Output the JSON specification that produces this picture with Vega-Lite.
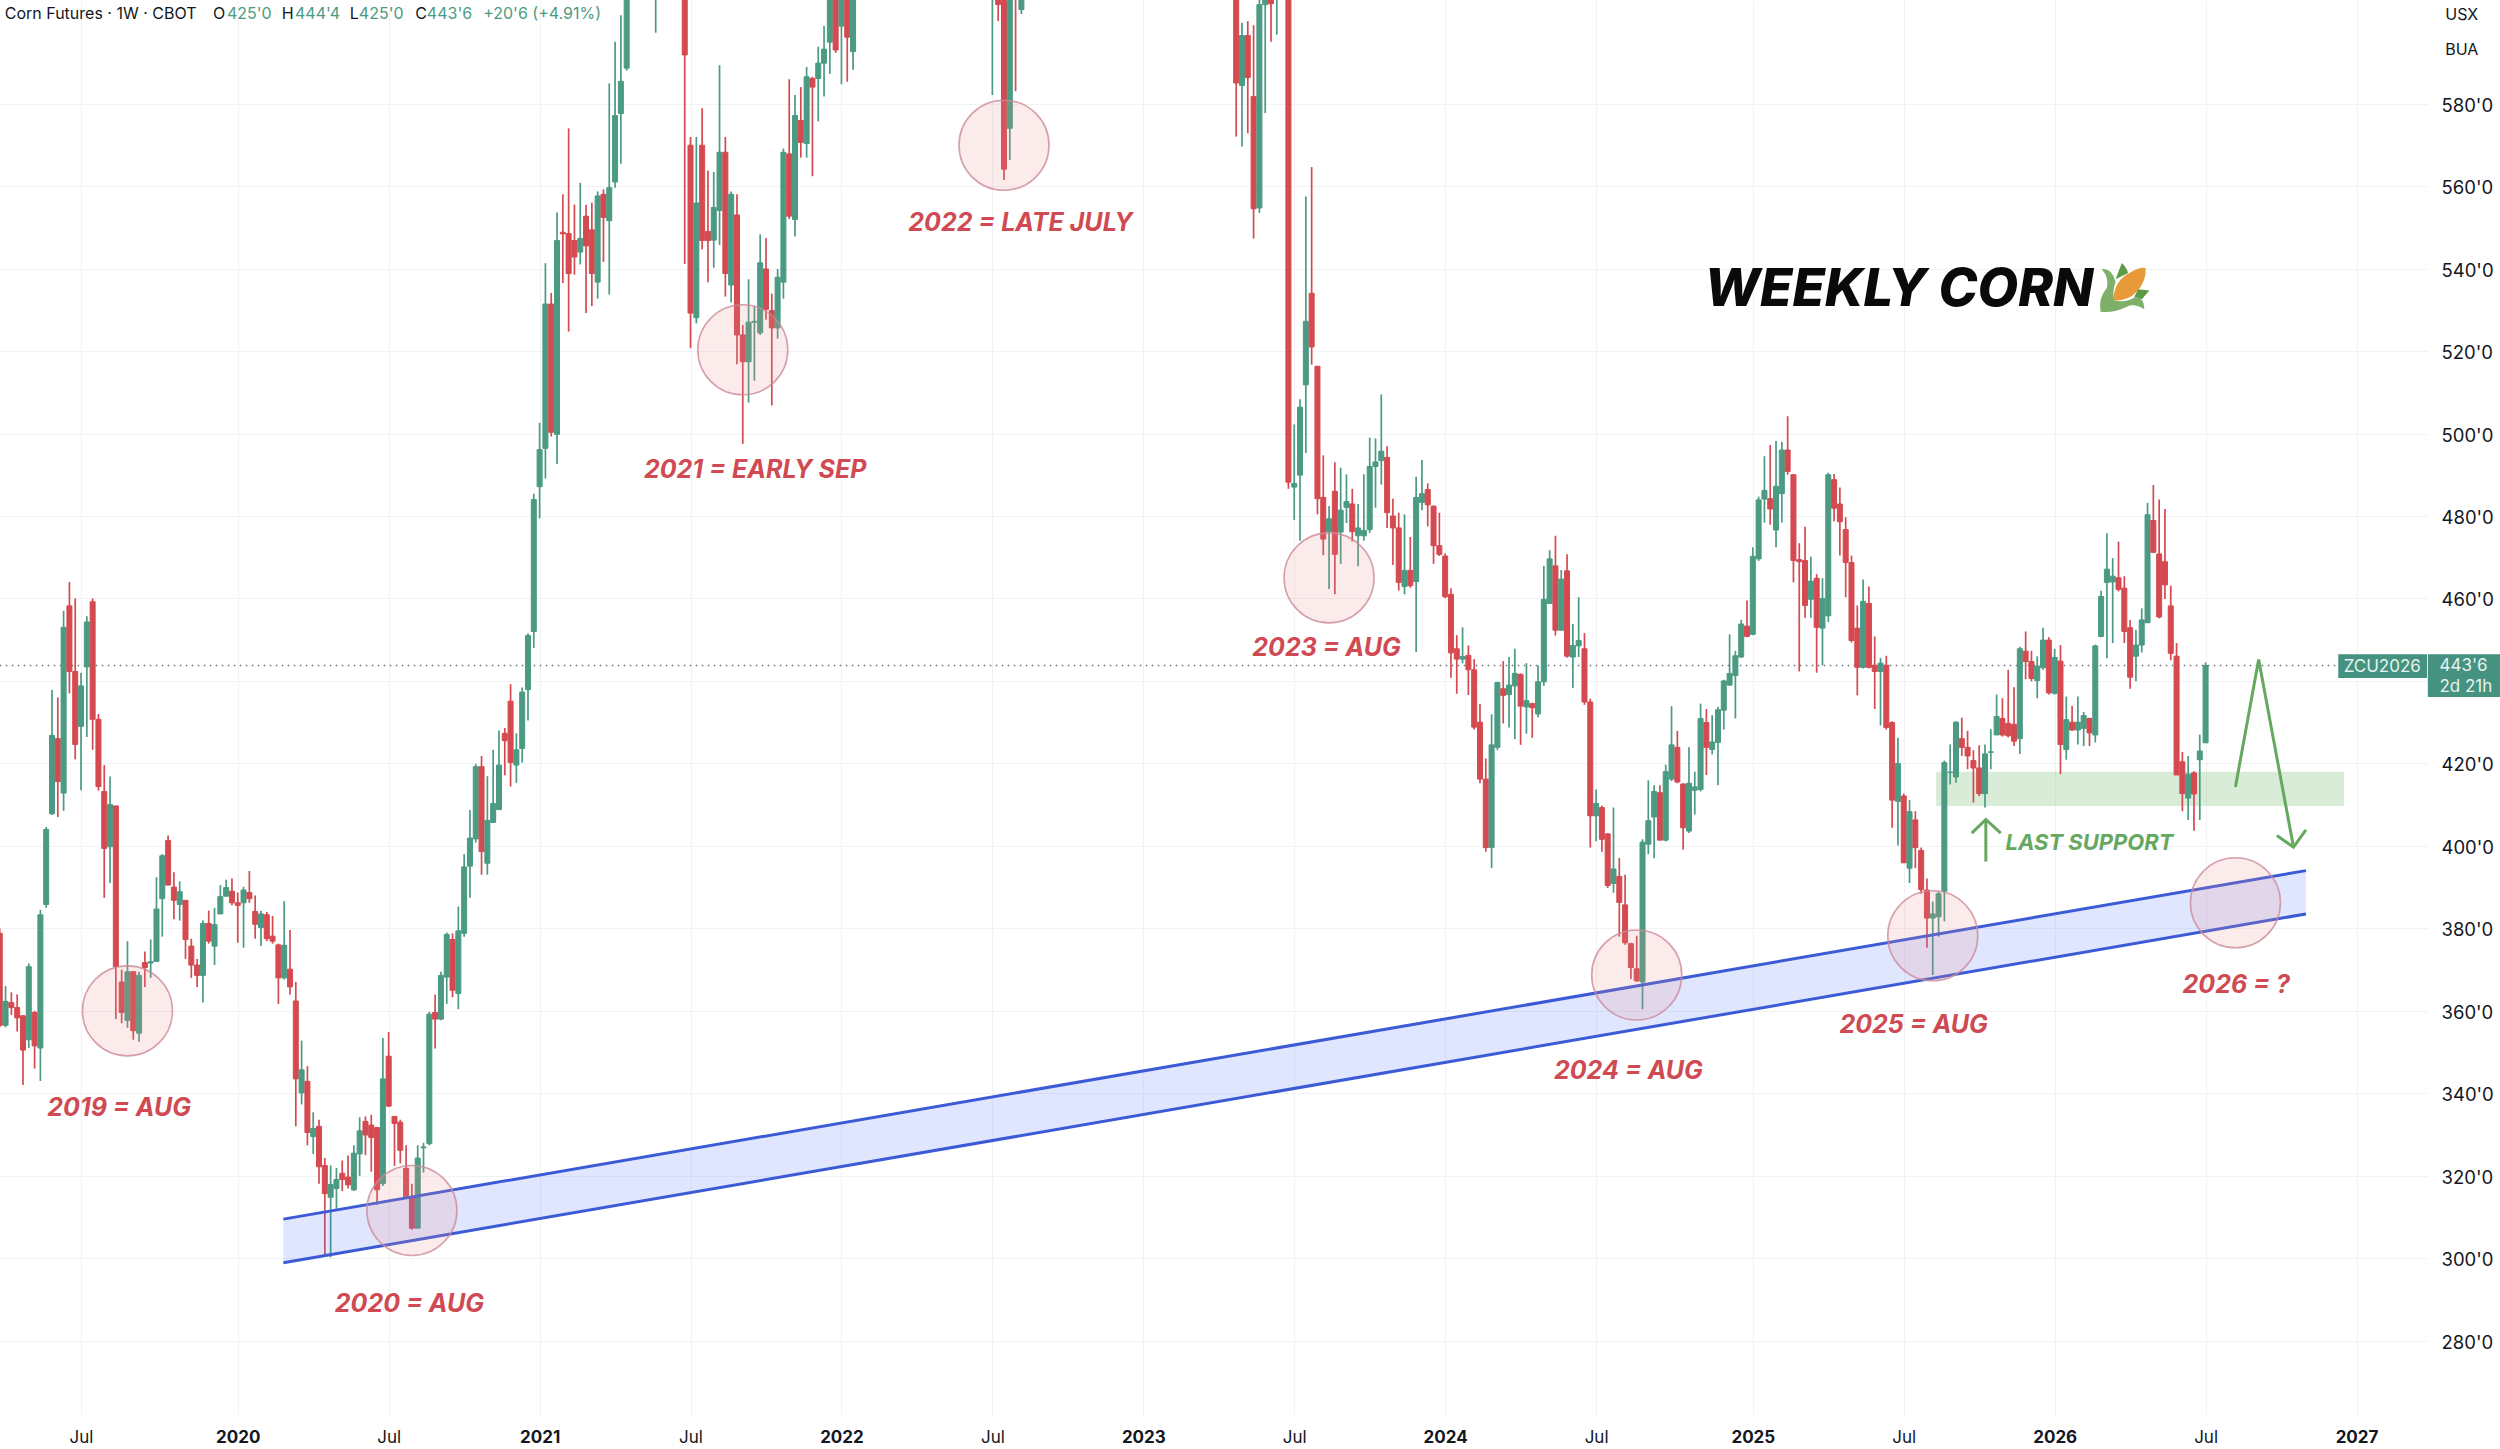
{
"$schema":"https://vega.github.io/schema/vega-lite/v6.json",
"autosize":{"type":"none"},
"padding":{"left":0,"top":0,"right":73,"bottom":34},
"background":"#ffffff",
"width":2427,
"height":1415,
"config":{"view":{"stroke":null},"font":"Inter"},
"data":{"values":[
{"date":"2019-03-25","open":378.8,"high":380,"low":356,"close":356.5},
{"date":"2019-04-01","open":356.5,"high":366,"low":356,"close":362.3},
{"date":"2019-04-08","open":362,"high":364.5,"low":359,"close":360.8},
{"date":"2019-04-15","open":360.8,"high":364,"low":355,"close":358.3},
{"date":"2019-04-22","open":358.8,"high":359,"low":342,"close":350.5},
{"date":"2019-04-29","open":353,"high":371.5,"low":351,"close":370.7},
{"date":"2019-05-06","open":359.6,"high":360,"low":346,"close":351.5},
{"date":"2019-05-13","open":351,"high":384.5,"low":343,"close":383.3},
{"date":"2019-05-20","open":385.8,"high":404.6,"low":385,"close":404},
{"date":"2019-05-27","open":407.8,"high":437.8,"low":407.5,"close":426.8},
{"date":"2019-06-03","open":426,"high":436,"low":407,"close":415.6},
{"date":"2019-06-10","open":412.8,"high":457,"low":408.5,"close":453},
{"date":"2019-06-17","open":458.2,"high":464,"low":437,"close":442.3},
{"date":"2019-06-24","open":442.3,"high":460,"low":421,"close":424.6},
{"date":"2019-07-01","open":429,"high":442,"low":413.5,"close":438.8},
{"date":"2019-07-08","open":443.4,"high":455.7,"low":426.4,"close":454.3},
{"date":"2019-07-15","open":459.2,"high":460,"low":423.3,"close":430.7},
{"date":"2019-07-22","open":430.7,"high":432,"low":413.4,"close":414.4},
{"date":"2019-07-29","open":413.2,"high":419.6,"low":387.4,"close":399.4},
{"date":"2019-08-05","open":399.8,"high":416.8,"low":391,"close":410},
{"date":"2019-08-12","open":409.7,"high":409.7,"low":358,"close":370.7},
{"date":"2019-08-19","open":367,"high":370,"low":357,"close":359.6},
{"date":"2019-08-26","open":357.7,"high":376.9,"low":355.9,"close":369.5},
{"date":"2019-09-02","open":369.5,"high":369.5,"low":353,"close":355.2},
{"date":"2019-09-09","open":354.6,"high":369.5,"low":352.5,"close":368.6},
{"date":"2019-09-16","open":371.7,"high":374.4,"low":365.8,"close":370.5},
{"date":"2019-09-23","open":371.6,"high":377.3,"low":368,"close":371.9},
{"date":"2019-09-30","open":372,"high":392.4,"low":372,"close":384.7},
{"date":"2019-10-07","open":387.2,"high":398,"low":378,"close":397.6},
{"date":"2019-10-14","open":401.3,"high":402.5,"low":390.5,"close":390.5},
{"date":"2019-10-21","open":390,"high":393.6,"low":382.2,"close":386.8},
{"date":"2019-10-28","open":385.8,"high":391.4,"low":381.9,"close":388.9},
{"date":"2019-11-04","open":386.8,"high":386.8,"low":372.6,"close":377.3},
{"date":"2019-11-11","open":375.7,"high":377.5,"low":368,"close":371.1},
{"date":"2019-11-18","open":371.1,"high":372.6,"low":365.8,"close":368.6},
{"date":"2019-11-25","open":368.6,"high":381.9,"low":362,"close":381.2},
{"date":"2019-12-02","open":381.2,"high":384.3,"low":376.3,"close":376.9},
{"date":"2019-12-09","open":375.7,"high":385,"low":371.1,"close":380.9},
{"date":"2019-12-16","open":383.5,"high":390.5,"low":383.5,"close":387.7},
{"date":"2019-12-23","open":387.8,"high":391.8,"low":387.8,"close":389.9},
{"date":"2019-12-30","open":389,"high":392.1,"low":385.6,"close":386.2},
{"date":"2020-01-06","open":386.2,"high":388.7,"low":376.5,"close":385.6},
{"date":"2020-01-13","open":386.2,"high":390.1,"low":375.3,"close":389.3},
{"date":"2020-01-20","open":388.7,"high":393.9,"low":386.2,"close":387.2},
{"date":"2020-01-27","open":384.1,"high":388,"low":377.5,"close":381},
{"date":"2020-02-03","open":380.2,"high":384.3,"low":375.7,"close":383.5},
{"date":"2020-02-10","open":383.3,"high":384,"low":376.9,"close":377.5},
{"date":"2020-02-17","open":378.1,"high":383,"low":376.3,"close":376.9},
{"date":"2020-02-24","open":376,"high":376.3,"low":361.7,"close":368},
{"date":"2020-03-02","open":368,"high":386.6,"low":367.6,"close":375.9},
{"date":"2020-03-09","open":370.1,"high":379.6,"low":363.9,"close":365.8},
{"date":"2020-03-16","open":362.4,"high":367,"low":332,"close":343.5},
{"date":"2020-03-23","open":340.1,"high":352.8,"low":337.3,"close":345.7},
{"date":"2020-03-30","open":342.9,"high":346.6,"low":327.4,"close":330.5},
{"date":"2020-04-06","open":329.5,"high":335.4,"low":325.3,"close":331.5},
{"date":"2020-04-13","open":332,"high":333.6,"low":318.1,"close":322.2},
{"date":"2020-04-20","open":322.5,"high":324.3,"low":300.8,"close":315.7},
{"date":"2020-04-27","open":314.8,"high":322.5,"low":300.2,"close":317.9},
{"date":"2020-05-04","open":316.9,"high":321.9,"low":312,"close":319.1},
{"date":"2020-05-11","open":320.6,"high":323.7,"low":316.3,"close":319.1},
{"date":"2020-05-18","open":319.7,"high":324.9,"low":316.9,"close":317.8},
{"date":"2020-05-25","open":316.6,"high":327.4,"low":316.3,"close":325.5},
{"date":"2020-06-01","open":325.3,"high":334.2,"low":320,"close":330.9},
{"date":"2020-06-08","open":333.2,"high":334.4,"low":325,"close":329.9},
{"date":"2020-06-15","open":332.3,"high":334.8,"low":321,"close":329.3},
{"date":"2020-06-22","open":331.7,"high":331.7,"low":313,"close":316.6},
{"date":"2020-06-29","open":318.1,"high":353.4,"low":317.5,"close":343.5},
{"date":"2020-07-06","open":349,"high":354.9,"low":336.7,"close":336.9},
{"date":"2020-07-13","open":334.4,"high":334.5,"low":322.4,"close":332.7},
{"date":"2020-07-20","open":333,"high":333.6,"low":323,"close":326.2},
{"date":"2020-07-27","open":321.8,"high":327.4,"low":314.4,"close":314.6},
{"date":"2020-08-03","open":314.6,"high":318.1,"low":307,"close":307.3},
{"date":"2020-08-10","open":307.3,"high":327.4,"low":307.3,"close":324.3},
{"date":"2020-08-17","open":326.8,"high":328,"low":320.8,"close":327},
{"date":"2020-08-24","open":327.8,"high":359.8,"low":327.4,"close":359.2},
{"date":"2020-08-31","open":359.6,"high":363.9,"low":350.9,"close":358},
{"date":"2020-09-07","open":358,"high":369.5,"low":357.7,"close":368.6},
{"date":"2020-09-14","open":368.2,"high":379,"low":361.7,"close":378.5},
{"date":"2020-09-21","open":377.3,"high":378.8,"low":363.3,"close":365},
{"date":"2020-09-28","open":364.2,"high":385.3,"low":360.4,"close":379.4},
{"date":"2020-10-05","open":378.8,"high":398,"low":378,"close":394.9},
{"date":"2020-10-12","open":395.1,"high":408.7,"low":387.4,"close":401.9},
{"date":"2020-10-19","open":401.7,"high":419.9,"low":400.8,"close":419.2},
{"date":"2020-10-26","open":419.2,"high":421.8,"low":393,"close":398.6},
{"date":"2020-11-02","open":395.8,"high":416.9,"low":393,"close":406.2},
{"date":"2020-11-09","open":405.7,"high":423.3,"low":405.7,"close":410.3},
{"date":"2020-11-16","open":408.8,"high":428,"low":408.8,"close":419.6},
{"date":"2020-11-23","open":427.3,"high":428.6,"low":417.1,"close":425.5},
{"date":"2020-11-30","open":435.1,"high":439.2,"low":414.4,"close":420.2},
{"date":"2020-12-07","open":419.6,"high":427.3,"low":415.3,"close":423.3},
{"date":"2020-12-14","open":423.6,"high":438.4,"low":420.2,"close":437.3},
{"date":"2020-12-21","open":437.9,"high":451.5,"low":430.4,"close":451},
{"date":"2020-12-28","open":452,"high":485.4,"low":448,"close":484},
{"date":"2021-01-04","open":487.1,"high":502.6,"low":479.4,"close":496.1},
{"date":"2021-01-11","open":496.4,"high":541.3,"low":489.1,"close":531.4},
{"date":"2021-01-18","open":531.4,"high":534.1,"low":499.3,"close":500.3},
{"date":"2021-01-25","open":499.8,"high":553.6,"low":492.6,"close":546.8},
{"date":"2021-02-01","open":548.8,"high":558,"low":536.5,"close":548.4},
{"date":"2021-02-08","open":548.5,"high":574,"low":524.7,"close":538.8},
{"date":"2021-02-15","open":546.8,"high":555.5,"low":538.5,"close":542.8},
{"date":"2021-02-22","open":544,"high":560.8,"low":541,"close":547.3},
{"date":"2021-03-01","open":552.7,"high":555.5,"low":529.2,"close":545.5},
{"date":"2021-03-08","open":549.4,"high":556,"low":530.9,"close":538.8},
{"date":"2021-03-15","open":536.7,"high":558.7,"low":532.7,"close":557.6},
{"date":"2021-03-22","open":558,"high":559.2,"low":541.6,"close":552.4},
{"date":"2021-03-29","open":551.6,"high":584.9,"low":533.7,"close":559.6},
{"date":"2021-04-05","open":561,"high":595,"low":559.6,"close":577.1},
{"date":"2021-04-12","open":577.6,"high":601.4,"low":565.4,"close":585.4},
{"date":"2021-04-19","open":588.6,"high":615,"low":588,"close":607},
{"date":"2021-05-24","open":625,"high":650,"low":597.2,"close":640},
{"date":"2021-06-28","open":625,"high":640,"low":541.1,"close":591.8},
{"date":"2021-07-05","open":569.9,"high":571.9,"low":520.7,"close":529.2},
{"date":"2021-07-12","open":528.1,"high":571.9,"low":526.7,"close":555.9},
{"date":"2021-07-19","open":569.9,"high":578.9,"low":544.6,"close":546.8},
{"date":"2021-07-26","open":549,"high":563.8,"low":536.7,"close":546.8},
{"date":"2021-08-02","open":546.9,"high":563.4,"low":540.2,"close":554.8},
{"date":"2021-08-09","open":554.1,"high":589.3,"low":545.7,"close":568.2},
{"date":"2021-08-16","open":568.2,"high":571.9,"low":533.2,"close":538.8},
{"date":"2021-08-23","open":536,"high":558.7,"low":531.8,"close":558},
{"date":"2021-08-30","open":553,"high":558,"low":516.8,"close":523.9},
{"date":"2021-09-06","open":523.9,"high":526.3,"low":497.5,"close":517.4},
{"date":"2021-09-13","open":517.4,"high":537.4,"low":507.5,"close":527},
{"date":"2021-09-20","open":527,"high":530.9,"low":512.8,"close":527.2},
{"date":"2021-09-27","open":524.4,"high":548.3,"low":523.9,"close":541.4},
{"date":"2021-10-04","open":539.9,"high":547.4,"low":527.6,"close":530.1},
{"date":"2021-10-11","open":529.8,"high":533.9,"low":506.8,"close":525.6},
{"date":"2021-10-18","open":525.6,"high":539.9,"low":523,"close":537.9},
{"date":"2021-10-25","open":536.7,"high":569.1,"low":532.7,"close":568.2},
{"date":"2021-11-01","open":567.8,"high":585.9,"low":552,"close":552.7},
{"date":"2021-11-08","open":551.9,"high":582.1,"low":547.8,"close":577.1},
{"date":"2021-11-15","open":575.9,"high":584,"low":566.9,"close":570.6},
{"date":"2021-11-22","open":570.3,"high":588.9,"low":566.9,"close":586.5},
{"date":"2021-11-29","open":586.1,"high":586.5,"low":562.4,"close":584},
{"date":"2021-12-06","open":586.1,"high":593.8,"low":575.7,"close":589.8},
{"date":"2021-12-13","open":589.8,"high":598.8,"low":581.7,"close":593.2},
{"date":"2021-12-20","open":594.9,"high":612,"low":587.2,"close":606},
{"date":"2021-12-27","open":608,"high":612,"low":592.3,"close":593},
{"date":"2022-01-03","open":598.8,"high":615,"low":584.7,"close":608},
{"date":"2022-01-10","open":610,"high":615,"low":585.3,"close":596.1},
{"date":"2022-01-17","open":592.6,"high":615,"low":588.2,"close":610},
{"date":"2022-07-04","open":620,"high":650,"low":582.1,"close":635},
{"date":"2022-07-11","open":615,"high":625,"low":600,"close":604},
{"date":"2022-07-18","open":605,"high":620,"low":561.5,"close":564.1},
{"date":"2022-07-25","open":574,"high":620,"low":566.3,"close":610},
{"date":"2022-08-01","open":630,"high":640,"low":583,"close":615},
{"date":"2022-08-08","open":602.8,"high":625,"low":601.7,"close":615},
{"date":"2023-04-24","open":610,"high":620,"low":572,"close":585},
{"date":"2023-05-01","open":584.4,"high":599.6,"low":569.6,"close":596.5},
{"date":"2023-05-08","open":596.5,"high":600,"low":572.8,"close":586.3},
{"date":"2023-05-15","open":581.7,"high":599,"low":547.3,"close":554.5},
{"date":"2023-05-22","open":554.7,"high":608,"low":553.5,"close":604},
{"date":"2023-05-29","open":604,"high":612,"low":577.7,"close":606},
{"date":"2023-06-05","open":606,"high":612,"low":595,"close":604.2},
{"date":"2023-06-12","open":610,"high":622,"low":596.7,"close":615},
{"date":"2023-06-26","open":640,"high":650,"low":486.6,"close":488.2},
{"date":"2023-07-03","open":487,"high":502.2,"low":479,"close":487.9},
{"date":"2023-07-10","open":489.9,"high":508.3,"low":474,"close":506.4},
{"date":"2023-07-17","open":511.8,"high":557.5,"low":495.3,"close":527.2},
{"date":"2023-07-24","open":534,"high":564.6,"low":516.7,"close":521},
{"date":"2023-07-31","open":516.3,"high":516.3,"low":480.4,"close":484.2},
{"date":"2023-08-07","open":484.5,"high":494.7,"low":470.5,"close":474.4},
{"date":"2023-08-14","open":476.2,"high":482.4,"low":462.3,"close":479.3},
{"date":"2023-08-21","open":486,"high":493,"low":461,"close":470.7},
{"date":"2023-08-28","open":476.1,"high":491.7,"low":468.4,"close":481.4},
{"date":"2023-09-04","open":482.1,"high":490.1,"low":478.3,"close":483.5},
{"date":"2023-09-11","open":482.9,"high":486.6,"low":473.8,"close":476.2},
{"date":"2023-09-18","open":475.2,"high":482.9,"low":467.8,"close":477.1},
{"date":"2023-09-25","open":475.2,"high":490.1,"low":474,"close":476.5},
{"date":"2023-10-02","open":476.7,"high":499,"low":475.9,"close":492},
{"date":"2023-10-09","open":492,"high":498.8,"low":482,"close":493.1},
{"date":"2023-10-16","open":493.4,"high":509.5,"low":487.6,"close":495.7},
{"date":"2023-10-23","open":494.2,"high":496.9,"low":477.1,"close":480.8},
{"date":"2023-10-30","open":480,"high":484.2,"low":468.1,"close":477.1},
{"date":"2023-11-06","open":477.1,"high":480.8,"low":461.9,"close":463.9},
{"date":"2023-11-13","open":462.9,"high":480.4,"low":461,"close":466.8},
{"date":"2023-11-20","open":466.8,"high":474.9,"low":462.6,"close":463.1},
{"date":"2023-11-27","open":464.1,"high":489.5,"low":447,"close":484.5},
{"date":"2023-12-04","open":483.3,"high":493.6,"low":481.4,"close":485.4},
{"date":"2023-12-11","open":486.4,"high":487.9,"low":477.5,"close":482.7},
{"date":"2023-12-18","open":482.4,"high":482.5,"low":468.4,"close":472.8},
{"date":"2023-12-25","open":472.8,"high":480.8,"low":470.3,"close":470.7},
{"date":"2024-01-01","open":470.3,"high":470.9,"low":460.1,"close":460.4},
{"date":"2024-01-08","open":461,"high":462.5,"low":440.8,"close":446.8},
{"date":"2024-01-15","open":447.8,"high":451.1,"low":436.9,"close":445.3},
{"date":"2024-01-22","open":445.3,"high":453,"low":444.3,"close":445.9},
{"date":"2024-01-29","open":446.2,"high":448.6,"low":436.6,"close":442.7},
{"date":"2024-02-05","open":442.7,"high":445.3,"low":428.2,"close":428.8},
{"date":"2024-02-12","open":430,"high":434.4,"low":415.2,"close":416.2},
{"date":"2024-02-19","open":416.2,"high":421.2,"low":398.6,"close":399.6},
{"date":"2024-02-26","open":399.6,"high":431.9,"low":394.6,"close":424.5},
{"date":"2024-03-04","open":423.9,"high":439.8,"low":423.2,"close":439.6},
{"date":"2024-03-11","open":438.1,"high":444.8,"low":429.7,"close":436.5},
{"date":"2024-03-18","open":436.7,"high":445.8,"low":428.7,"close":439},
{"date":"2024-03-25","open":438.8,"high":447.8,"low":425.9,"close":441.8},
{"date":"2024-04-01","open":441.6,"high":441.8,"low":424.5,"close":433.9},
{"date":"2024-04-08","open":433.7,"high":444.3,"low":427.2,"close":435.2},
{"date":"2024-04-15","open":434.5,"high":434.7,"low":426.2,"close":433.5},
{"date":"2024-04-22","open":432,"high":443.8,"low":431.2,"close":439.8},
{"date":"2024-04-29","open":439.8,"high":467.9,"low":438.8,"close":459.8},
{"date":"2024-05-06","open":458.8,"high":471.7,"low":458.8,"close":469.6},
{"date":"2024-05-13","open":467.9,"high":475.2,"low":451,"close":452.3},
{"date":"2024-05-20","open":452.3,"high":466.9,"low":452.3,"close":464.7},
{"date":"2024-05-27","open":466.7,"high":470.7,"low":445.6,"close":446},
{"date":"2024-06-03","open":445.8,"high":453.8,"low":438.3,"close":448.6},
{"date":"2024-06-10","open":448.5,"high":460.3,"low":445.8,"close":449.8},
{"date":"2024-06-17","open":447.8,"high":451.6,"low":434.2,"close":434.9},
{"date":"2024-06-24","open":434.9,"high":435.7,"low":399.6,"close":407.3},
{"date":"2024-07-01","open":407.3,"high":413.7,"low":401.1,"close":410.3},
{"date":"2024-07-08","open":409.3,"high":409.8,"low":398.6,"close":401.6},
{"date":"2024-07-15","open":402.9,"high":403.1,"low":389.8,"close":390.4},
{"date":"2024-07-22","open":390.9,"high":409.3,"low":388.6,"close":394.4},
{"date":"2024-07-29","open":392.6,"high":397.1,"low":378,"close":386.3},
{"date":"2024-08-05","open":385.7,"high":393,"low":376,"close":376.5},
{"date":"2024-08-12","open":376.3,"high":376.5,"low":367.7,"close":370.5},
{"date":"2024-08-19","open":370.2,"high":378.2,"low":367,"close":367.3},
{"date":"2024-08-26","open":367,"high":401.6,"low":360.4,"close":400.9},
{"date":"2024-09-02","open":400.4,"high":415.9,"low":398,"close":406.1},
{"date":"2024-09-09","open":407,"high":414.7,"low":397,"close":413.2},
{"date":"2024-09-16","open":412.9,"high":414.7,"low":401.4,"close":401.4},
{"date":"2024-09-23","open":401.4,"high":419.7,"low":401.1,"close":418},
{"date":"2024-09-30","open":416.2,"high":433.9,"low":415.7,"close":424.5},
{"date":"2024-10-07","open":423.9,"high":427.9,"low":415.2,"close":415.5},
{"date":"2024-10-14","open":415,"high":415.2,"low":399.1,"close":404.4},
{"date":"2024-10-21","open":403.6,"high":423.9,"low":403.1,"close":415.2},
{"date":"2024-10-28","open":413.5,"high":418,"low":407.6,"close":414.3},
{"date":"2024-11-04","open":413.7,"high":434.5,"low":413.2,"close":430.9},
{"date":"2024-11-11","open":429.9,"high":433.2,"low":417.2,"close":423.9},
{"date":"2024-11-18","open":423.4,"high":431.7,"low":422.2,"close":425.2},
{"date":"2024-11-25","open":425.1,"high":433.7,"low":414.7,"close":433},
{"date":"2024-12-02","open":432.9,"high":440.3,"low":428.2,"close":440},
{"date":"2024-12-09","open":439,"high":451.3,"low":438.8,"close":441.8},
{"date":"2024-12-16","open":441.3,"high":447.3,"low":430.9,"close":446.1},
{"date":"2024-12-23","open":445.8,"high":454.8,"low":445.6,"close":453.8},
{"date":"2024-12-30","open":453.3,"high":459.5,"low":450.6,"close":450.8},
{"date":"2025-01-06","open":451.3,"high":472.4,"low":451.1,"close":470.2},
{"date":"2025-01-13","open":469.6,"high":484.7,"low":469.1,"close":483.9},
{"date":"2025-01-20","open":484.1,"high":494.5,"low":478.4,"close":486.2},
{"date":"2025-01-27","open":484.2,"high":497.2,"low":477.9,"close":481.7},
{"date":"2025-02-03","open":476.6,"high":498.2,"low":472.4,"close":487.2},
{"date":"2025-02-10","open":485.4,"high":498,"low":478.4,"close":496},
{"date":"2025-02-17","open":496,"high":504.2,"low":490,"close":490.8},
{"date":"2025-02-24","open":490,"high":490.2,"low":463.9,"close":469.2},
{"date":"2025-03-03","open":469.4,"high":473.4,"low":442.3,"close":468.9},
{"date":"2025-03-10","open":469.2,"high":477.4,"low":455.3,"close":458.3},
{"date":"2025-03-17","open":459.8,"high":470.1,"low":455.3,"close":464.2},
{"date":"2025-03-24","open":464.9,"high":465.9,"low":442,"close":453},
{"date":"2025-03-31","open":452.8,"high":464.9,"low":443.8,"close":460},
{"date":"2025-04-07","open":455.8,"high":490.5,"low":454.3,"close":490},
{"date":"2025-04-14","open":488.8,"high":490.2,"low":478.7,"close":481.9},
{"date":"2025-04-21","open":482.9,"high":486.9,"low":470.4,"close":478.6},
{"date":"2025-04-28","open":476.7,"high":479.7,"low":460.3,"close":468.7},
{"date":"2025-05-05","open":468.7,"high":470.4,"low":449.3,"close":449.8},
{"date":"2025-05-12","open":452.8,"high":458.3,"low":436.5,"close":443.3},
{"date":"2025-05-19","open":443.3,"high":464.6,"low":443,"close":459.3},
{"date":"2025-05-26","open":458.8,"high":462.9,"low":443,"close":443.3},
{"date":"2025-06-02","open":443.8,"high":450.8,"low":433.2,"close":442.3},
{"date":"2025-06-09","open":442.3,"high":445.6,"low":429.2,"close":444.3},
{"date":"2025-06-16","open":443.8,"high":446.1,"low":428.2,"close":428.7},
{"date":"2025-06-23","open":429.9,"high":430.2,"low":404.4,"close":411.1},
{"date":"2025-06-30","open":410.8,"high":426.2,"low":400.1,"close":420},
{"date":"2025-07-07","open":412.1,"high":412.7,"low":395.9,"close":395.9},
{"date":"2025-07-14","open":394.6,"high":411.1,"low":391,"close":408.3},
{"date":"2025-07-21","open":406.3,"high":408.4,"low":394.6,"close":399.6},
{"date":"2025-07-28","open":398.9,"high":399.6,"low":388.4,"close":389.4},
{"date":"2025-08-04","open":389.3,"high":392.1,"low":375.3,"close":382.5},
{"date":"2025-08-11","open":382.5,"high":386.5,"low":368.7,"close":383.5},
{"date":"2025-08-18","open":382.8,"high":389,"low":378,"close":388.4},
{"date":"2025-08-25","open":389,"high":420.7,"low":381.7,"close":420.2},
{"date":"2025-09-01","open":417.8,"high":424.6,"low":414.9,"close":417.9},
{"date":"2025-09-08","open":416.7,"high":430.2,"low":415.3,"close":430},
{"date":"2025-09-15","open":426,"high":431.1,"low":421.8,"close":423.9},
{"date":"2025-09-22","open":423.9,"high":427.9,"low":418.6,"close":421.8},
{"date":"2025-09-29","open":420.7,"high":423.2,"low":410.5,"close":418.9},
{"date":"2025-10-06","open":418.9,"high":424.4,"low":412.1,"close":412.7},
{"date":"2025-10-13","open":412.7,"high":424.6,"low":409.3,"close":422.3},
{"date":"2025-10-20","open":422.7,"high":428.3,"low":418.6,"close":422.8},
{"date":"2025-10-27","open":426.9,"high":436.7,"low":426.9,"close":431.4},
{"date":"2025-11-03","open":430.9,"high":435.8,"low":426.5,"close":426.9},
{"date":"2025-11-10","open":429.7,"high":442.7,"low":426.3,"close":426.7},
{"date":"2025-11-17","open":429.5,"high":438.5,"low":424.2,"close":425.4},
{"date":"2025-11-24","open":426,"high":448.3,"low":422.3,"close":447.8},
{"date":"2025-12-01","open":447.2,"high":452,"low":440.4,"close":444.7},
{"date":"2025-12-08","open":444.7,"high":447.3,"low":439.9,"close":440.6},
{"date":"2025-12-15","open":440.1,"high":446,"low":435.8,"close":443.6},
{"date":"2025-12-22","open":443.2,"high":452.9,"low":442.7,"close":449.9},
{"date":"2025-12-29","open":449.9,"high":450.6,"low":436.7,"close":437.1},
{"date":"2026-01-05","open":437,"high":447.8,"low":436.7,"close":445.7},
{"date":"2026-01-12","open":444.8,"high":448.7,"low":417.4,"close":424.6},
{"date":"2026-01-19","open":423.4,"high":436.2,"low":420.9,"close":430.6},
{"date":"2026-01-26","open":430,"high":433.9,"low":427.9,"close":428.1},
{"date":"2026-02-02","open":428.1,"high":436.2,"low":424.6,"close":430},
{"date":"2026-02-09","open":428.5,"high":432.5,"low":424.2,"close":431.6},
{"date":"2026-02-16","open":430.9,"high":431.1,"low":424.2,"close":427.4},
{"date":"2026-02-23","open":426.9,"high":448.8,"low":425.1,"close":448.5},
{"date":"2026-03-02","open":450.8,"high":461.9,"low":450.6,"close":460.5},
{"date":"2026-03-09","open":463.9,"high":475.8,"low":445.5,"close":467.1},
{"date":"2026-03-16","open":464,"high":469.8,"low":449.2,"close":465.4},
{"date":"2026-03-23","open":465,"high":473.8,"low":461.7,"close":462.2},
{"date":"2026-03-30","open":462.5,"high":465.4,"low":449.2,"close":452},
{"date":"2026-04-06","open":452.9,"high":454.8,"low":438.1,"close":440.9},
{"date":"2026-04-13","open":446,"high":452.4,"low":439.9,"close":448.7},
{"date":"2026-04-20","open":448.7,"high":457.6,"low":446.9,"close":454.8},
{"date":"2026-04-27","open":454.1,"high":483.2,"low":454.1,"close":480.3},
{"date":"2026-05-04","open":478.9,"high":487.5,"low":471,"close":471.2},
{"date":"2026-05-11","open":470.8,"high":484,"low":455.2,"close":455.5},
{"date":"2026-05-18","open":468.9,"high":481.7,"low":459.9,"close":463.3},
{"date":"2026-05-25","open":458.2,"high":463.1,"low":445,"close":446.7},
{"date":"2026-06-01","open":446,"high":449.2,"low":417.2,"close":417.2},
{"date":"2026-06-08","open":420.4,"high":422.8,"low":408.4,"close":412.7},
{"date":"2026-06-15","open":411.6,"high":421.8,"low":406.3,"close":417.4},
{"date":"2026-06-22","open":417.7,"high":418.1,"low":403.7,"close":412.6},
{"date":"2026-06-29","open":420.9,"high":427,"low":406.3,"close":423},
{"date":"2026-07-06","open":425,"high":444.5,"low":425,"close":443.75}
]},
"encoding":{
"x":{"field":"date","type":"temporal","title":null,
"scale":{"type":"utc","padding":0,"domain":[{"year":2019,"month":3,"date":25,"hours":7,"utc":true},{"year":2027,"month":3,"date":30,"utc":true}]},
"axis":{"orient":"bottom","domain":false,"ticks":false,"labelPadding":14,"labelFontSize":17,"labelFont":"Inter","labelColor":"#131722","labelOverlap":false,"labelFlush":false,"gridColor":"#f1f2f4","gridWidth":1,
"labelFontWeight":{"condition":{"test":"utcmonth(datum.value)===0","value":700},"value":400},
"labelExpr":"utcmonth(datum.value)===0 ? utcFormat(datum.value,'%Y') : 'Jul'",
"values":[{"year":2019,"month":7,"date":1,"utc":true},{"year":2020,"month":1,"date":6,"utc":true},{"year":2020,"month":7,"date":6,"utc":true},{"year":2021,"month":1,"date":4,"utc":true},{"year":2021,"month":7,"date":5,"utc":true},{"year":2022,"month":1,"date":3,"utc":true},{"year":2022,"month":7,"date":4,"utc":true},{"year":2023,"month":1,"date":2,"utc":true},{"year":2023,"month":7,"date":3,"utc":true},{"year":2024,"month":1,"date":1,"utc":true},{"year":2024,"month":7,"date":1,"utc":true},{"year":2025,"month":1,"date":6,"utc":true},{"year":2025,"month":7,"date":7,"utc":true},{"year":2026,"month":1,"date":5,"utc":true},{"year":2026,"month":7,"date":6,"utc":true},{"year":2027,"month":1,"date":4,"utc":true}]}},
"y":{"field":"price","type":"quantitative","title":null,
"scale":{"domain":[262,605.12],"nice":false,"zero":false},
"axis":{"orient":"right","domain":false,"ticks":false,"labelPadding":14,"labelFontSize":18.5,"labelOffset":1.5,"labelFont":"Inter","labelColor":"#131722","gridColor":"#f1f2f4","gridWidth":1,
"values":[280,300,320,340,360,380,400,420,440,460,480,500,520,540,560,580],
"labelExpr":"datum.value + \"'0\""}}
},
"layer":[
{"data":{"values":[{"date":"2025-08-15","date_end":"2026-12-20","price":418,"price_end":409.7}]},
"mark":{"type":"rect","fill":"#6cb665","fillOpacity":0.26},
"encoding":{"x2":{"field":"date_end"},"y2":{"field":"price_end"}}},
{"data":{"values":[{"date":"2019-03-25","date_end":"2026-12-13","price":443.75}]},
"mark":{"type":"rule","stroke":"#6b6f78","strokeWidth":1.3,"strokeDash":[1.5,4.5]},
"encoding":{"x2":{"field":"date_end"}}},
{"mark":{"type":"rule","strokeWidth":1.7,"clip":true},
"encoding":{
"y":{"field":"low","type":"quantitative"},"y2":{"field":"high"},
"color":{"condition":{"test":"datum.close >= datum.open","value":"#4b9a83"},"value":"#d44a50"}}},
{"mark":{"type":"bar","size":5,"strokeWidth":1,"clip":true},
"encoding":{
"y":{"field":"open","type":"quantitative"},"y2":{"field":"close"},
"fill":{"condition":{"test":"datum.close >= datum.open","value":"#4b9a83"},"value":"#d44a50"},
"stroke":{"condition":{"test":"datum.close >= datum.open","value":"#4b9a83"},"value":"#d44a50"}}},
{"data":{"values":[{"date":"2020-03-01","upper":309.5,"lower":298.9},{"date":"2026-11-04","upper":394,"lower":383.5}]},
"mark":{"type":"area","fill":"#4a6cf7","fillOpacity":0.17},
"encoding":{"y":{"field":"lower","type":"quantitative"},"y2":{"field":"upper"}}},
{"data":{"values":[{"date":"2020-03-01","price":309.5,"edge":"upper"},{"date":"2026-11-04","price":394,"edge":"upper"},{"date":"2020-03-01","price":298.9,"edge":"lower"},{"date":"2026-11-04","price":383.5,"edge":"lower"}]},
"mark":{"type":"line","stroke":"#3b5bd6","strokeWidth":3},
"encoding":{"detail":{"field":"edge"}}},
{"data":{"values":[{"date":"2019-08-26","price":360},{"date":"2020-08-03","price":311.6},{"date":"2021-09-06","price":520.3},{"date":"2022-07-18","price":569.9},{"date":"2023-08-14","price":465},{"date":"2024-08-19","price":368.7},{"date":"2025-08-11","price":378.2},{"date":"2026-08-11","price":386.2}]},
"mark":{"type":"point","shape":"circle","size":8100,"filled":true,"opacity":1,"fill":"#e88f8f","fillOpacity":0.18,"stroke":"#cc8a99","strokeOpacity":0.8,"strokeWidth":1.6}},
{"data":{"values":[
{"date":"2026-08-11","price":414.3,"arrow":"swing","seq":1},{"date":"2026-09-08","price":445.2,"arrow":"swing","seq":2},{"date":"2026-10-20","price":399.7,"arrow":"swing","seq":3},
{"date":"2026-09-30","price":402.5,"arrow":"swing head","seq":1},{"date":"2026-10-20","price":399.7,"arrow":"swing head","seq":2},{"date":"2026-11-04","price":403.9,"arrow":"swing head","seq":3},
{"date":"2025-10-14","price":396.2,"arrow":"support","seq":1},{"date":"2025-10-14","price":406.4,"arrow":"support","seq":2},
{"date":"2025-09-27","price":403.1,"arrow":"support head","seq":1},{"date":"2025-10-14","price":406.4,"arrow":"support head","seq":2},{"date":"2025-11-01","price":403.1,"arrow":"support head","seq":3}]},
"mark":{"type":"line","stroke":"#66a85f","strokeWidth":3},
"encoding":{"detail":{"field":"arrow"},"order":{"field":"seq"}}},
{"data":{"values":[
{"date":"2019-08-16","price":337.2,"label":"2019 = AUG"},{"date":"2020-07-31","price":289.7,"label":"2020 = AUG"},{"date":"2021-09-21","price":491.9,"label":"2021 = EARLY SEP"},{"date":"2022-08-07","price":551.8,"label":"2022 = LATE JULY"},{"date":"2023-08-11","price":448.8,"label":"2023 = AUG"},{"date":"2024-08-09","price":346.2,"label":"2024 = AUG"},{"date":"2025-07-19","price":357.3,"label":"2025 = AUG"},{"date":"2026-08-12","price":367,"label":"2026 = ?"}]},
"mark":{"type":"text","font":"Inter","fontSize":25,"fontWeight":700,"fontStyle":"italic","color":"#cf4a52","align":"center","baseline":"middle","dy":3},
"encoding":{"text":{"field":"label"}}},
{"data":{"values":[{"date":"2026-02-16","price":401.4,"label":"LAST SUPPORT"}]},
"mark":{"type":"text","font":"Inter","fontSize":22,"fontWeight":700,"fontStyle":"italic","color":"#66a85f","align":"center","baseline":"middle","dy":3},
"encoding":{"text":{"field":"label"}}},
{"data":{"values":[{"date":"2025-07-01","price":535.5,"label":"WEEKLY CORN"}]},
"mark":{"type":"text","font":"Inter","fontSize":52.5,"fontWeight":800,"fontStyle":"italic","color":"#0a0a0a","align":"center","baseline":"middle","dy":3},
"encoding":{"text":{"field":"label"}}},
{"data":{"values":[{"date":"2026-03-30","price":535.3}]},
"mark":{"type":"point","filled":true,"opacity":1,"size":2500,"fill":"#5c9a48","shape":"M-0.35,-0.35 L-0.1,-1 Q0.1,-0.8 0.15,-0.6Z M0.55,0.05 L1,0.1 L0.7,0.45 L0.4,0.35Z"}},
{"data":{"values":[{"date":"2026-03-30","price":535.3}]},
"mark":{"type":"point","filled":true,"opacity":1,"size":2500,"fill":"#e8993a","shape":"M-0.45,0.5 Q-0.4,-0.3 0.2,-0.6 Q0.6,-0.85 0.85,-0.8 Q0.9,-0.3 0.5,0.15 Q0.1,0.55 -0.45,0.5Z"}},
{"data":{"values":[{"date":"2026-03-30","price":535.3}]},
"mark":{"type":"point","filled":true,"opacity":1,"size":2500,"fill":"#7fb069","shape":"M-0.9,-0.75 Q-0.5,-0.8 -0.35,-0.25 Q-0.5,0.2 -0.4,0.5 Q0.1,0.6 0.45,0.35 Q0.8,0.4 0.8,0.85 Q0.4,0.6 0.1,0.75 Q-0.4,1 -0.95,0.95 Q-1.05,0.4 -0.7,0 Q-0.6,-0.4 -0.9,-0.75Z"}},
{"data":{"values":[{"date":"2026-12-13","date_end":"2027-03-30","price":446.5,"price_end":440.7},{"date":"2027-03-31","date_end":"2027-06-26","price":446.5,"price_end":436.1}]},
"mark":{"type":"rect","fill":"#459280"},
"encoding":{"x2":{"field":"date_end"},"y2":{"field":"price_end"}}},
{"data":{"values":[{"date":"2027-02-04","price":443.8,"label":"ZCU2026"}]},
"mark":{"type":"text","font":"Inter","fontSize":17,"color":"#e6f3ee","align":"center","baseline":"middle","dy":1.5},
"encoding":{"text":{"field":"label"}}},
{"data":{"values":[{"date":"2027-04-14","price":444.1,"label":"443'6"},{"date":"2027-04-14","price":439,"label":"2d 21h"}]},
"mark":{"type":"text","font":"Inter","fontSize":17,"color":"#e6f3ee","align":"left","baseline":"middle","dy":1.5},
"encoding":{"text":{"field":"label"}}},
{"data":{"values":[{"date":"2027-04-21","price":601.7,"label":"USX"},{"date":"2027-04-21","price":593.2,"label":"BUA"}]},
"mark":{"type":"text","font":"Inter","fontSize":16,"color":"#131722","align":"left","baseline":"middle","dy":1},
"encoding":{"text":{"field":"label"}}},
{"data":{"values":[
{"date":"2019-03-31","price":601.7,"label":"Corn Futures · 1W · CBOT","part":"name"},
{"date":"2019-12-07","price":601.7,"label":"O","part":"name"},
{"date":"2019-12-24","price":601.7,"label":"425'0","part":"value"},
{"date":"2020-02-28","price":601.7,"label":"H","part":"name"},
{"date":"2020-03-15","price":601.7,"label":"444'4","part":"value"},
{"date":"2020-05-20","price":601.7,"label":"L","part":"name"},
{"date":"2020-05-31","price":601.7,"label":"425'0","part":"value"},
{"date":"2020-08-07","price":601.7,"label":"C","part":"name"},
{"date":"2020-08-21","price":601.7,"label":"443'6","part":"value"},
{"date":"2020-10-28","price":601.7,"label":"+20'6 (+4.91%)","part":"value"}]},
"mark":{"type":"text","font":"Inter","fontSize":16,"align":"left","baseline":"middle"},
"encoding":{"text":{"field":"label"},"color":{"field":"part","type":"nominal","legend":null,"scale":{"domain":["name","value"],"range":["#131722","#4c9a82"]}}}}
]
}
